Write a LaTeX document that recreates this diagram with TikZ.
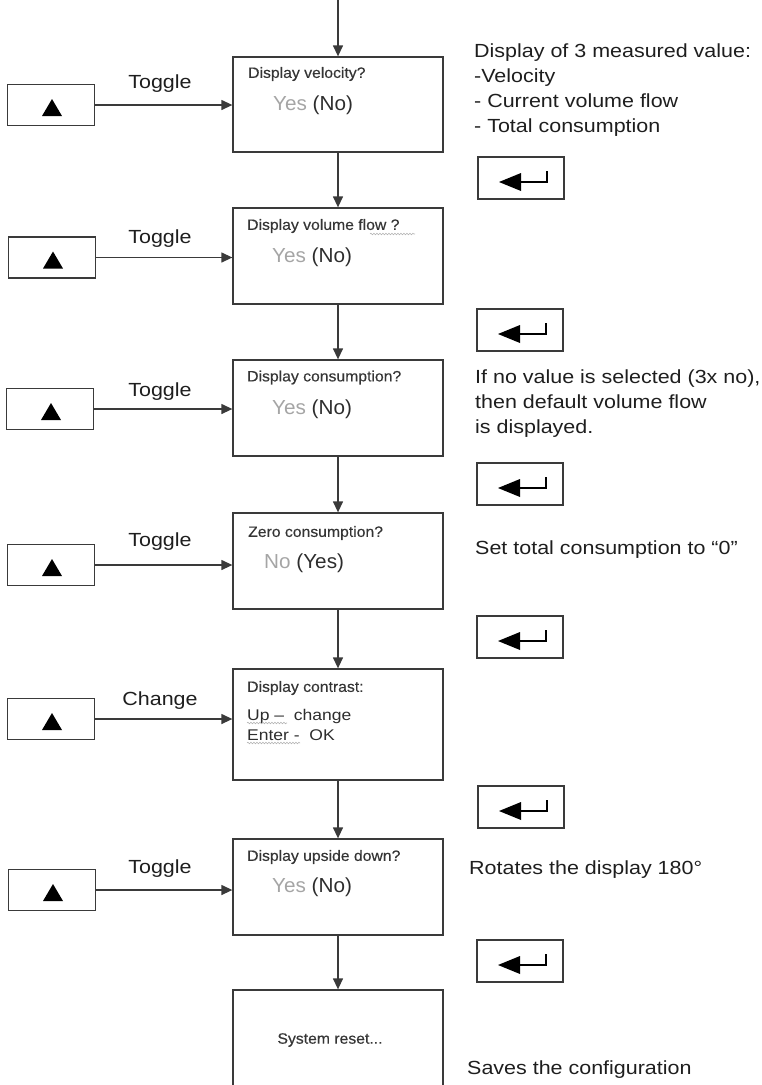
\documentclass[tikz,border=0pt]{standalone}
\usepackage{fontspec}
\setmainfont{Liberation Sans}[FakeStretch=1.13]
\newfontfamily\ttlfamily{Liberation Sans}[FakeStretch=1.05,FakeBold=0.35]
\newfontfamily\ynfamily{Liberation Sans}[FakeStretch=1.02]
\usetikzlibrary{arrows.meta,decorations.pathmorphing}
\definecolor{ln}{HTML}{3A3A3A}
\definecolor{tx}{HTML}{1E1E1E}
\definecolor{ttlc}{HTML}{353535}
\definecolor{lite}{HTML}{A5A5A5}
\definecolor{darkno}{HTML}{2D2D2D}
\definecolor{squig}{HTML}{B4B4B4}
\newcommand\enterglyph[1]{%
  \begin{scope}[shift={(#1.center)}]
    \fill[black] (-22,4) -- (0,-5) -- (0,13) -- cycle;
    \draw[black, line width=2.2pt] (-1,4) -- (26,4) -- (26,-7);
  \end{scope}}
\newcommand\upglyph[1]{%
  \begin{scope}[shift={(#1.center)}]
    \fill[black] (-9,11) -- (11,11) -- (1,-6) -- cycle;
  \end{scope}}
\begin{document}
\begin{tikzpicture}[x=1pt,y=-1pt,
  mainbox/.style={draw=ln, line width=1.3pt, minimum width=210pt, inner sep=0pt},
  upbtn/.style={draw=ln, line width=1.3pt, minimum width=87pt, minimum height=41pt, inner sep=0pt},
  entbtn/.style={draw=ln, line width=1.3pt, minimum width=86pt, minimum height=42pt, inner sep=0pt},
  conn/.style={draw=ln, line width=1.3pt, -{Triangle[length=11pt,width=10pt]}},
  ttl/.style={anchor=west, inner sep=0pt, text=ttlc, font=\ttlfamily\fontsize{15}{17}\selectfont},
  yn/.style={anchor=west, inner sep=0pt, text=darkno, font=\ynfamily\fontsize{20.3}{22}\selectfont},
  body/.style={anchor=west, inner sep=0pt, text=darkno, font=\fontsize{15.5}{18}\selectfont},
  lbl/.style={anchor=base, inner sep=0pt, text=tx, font=\fontsize{19}{25}\selectfont},
  note/.style={anchor=base west, inner sep=0pt, text=tx, font=\fontsize{19}{25}\selectfont},
  squiggle/.style={draw=squig, line width=0.6pt, decorate, decoration={snake, amplitude=0.8pt, segment length=3pt}}
]
\useasboundingbox (0,0) rectangle (762,1085);
\clip (0,0) rectangle (762,1085);

% main boxes
\node[mainbox, minimum height=95pt]  (b1) at (338,104.5) {};
\node[mainbox, minimum height=96pt]  (b2) at (338,256) {};
\node[mainbox, minimum height=96pt]  (b3) at (338,408) {};
\node[mainbox, minimum height=96pt]  (b4) at (338,561) {};
\node[mainbox, minimum height=111pt] (b5) at (338,724.5) {};
\node[mainbox, minimum height=96pt]  (b6) at (338,887) {};
\node[mainbox, minimum height=110pt] (b7) at (338,1045) {};

% texts in boxes
\node[ttl] (t1) at (248,74) {Display velocity?};
\node[yn]  (y1) at (273,105) {\textcolor{lite}{Yes} (No)};
\node[ttl] (t2) at (247,226) {Display volume flow ?};
\node[yn]  (y2) at (272,257) {\textcolor{lite}{Yes} (No)};
\node[ttl] (t3) at (247,377.5) {Display consumption?};
\node[yn]  (y3) at (272,409) {\textcolor{lite}{Yes} (No)};
\node[ttl] (t4) at (248,533) {Zero consumption?};
\node[yn]  (y4) at (264,563) {\textcolor{lite}{No} (Yes)};
\node[ttl] (t5) at (247,688) {Display contrast:};
\node[body] (u5) at (247,716) {Up –\ \ change};
\node[body] (e5t) at (247,735) {Enter -\ \ OK};
\node[ttl] (t6) at (247,857) {Display upside down?};
\node[yn]  (y6) at (272,887) {\textcolor{lite}{Yes} (No)};
\node[ttl, anchor=center] (t7) at (330,1040) {System reset...};

% spell-check squiggles
\draw[squiggle] (370,234) -- (415,234);
\draw[squiggle] (247,723) -- (287,723);
\draw[squiggle] (247,743) -- (300,743);

% up buttons
\node[upbtn] (u1) at (51,105) {};
\node[upbtn] (u2) at (52,257.5) {};
\node[upbtn] (u3) at (50,409) {};
\node[upbtn] (u4) at (51,565) {};
\node[upbtn] (u5b) at (51,719) {};
\node[upbtn] (u6) at (52,890) {};
\upglyph{u1}\upglyph{u2}\upglyph{u3}\upglyph{u4}\upglyph{u5b}\upglyph{u6}

% enter buttons
\node[entbtn] (e1) at (521,178) {};
\node[entbtn] (e2) at (520,330) {};
\node[entbtn] (e3) at (520,484) {};
\node[entbtn] (e4) at (520,637) {};
\node[entbtn] (e5) at (521,807) {};
\node[entbtn] (e6) at (520,961) {};
\enterglyph{e1}\enterglyph{e2}\enterglyph{e3}\enterglyph{e4}\enterglyph{e5}\enterglyph{e6}

% labels on horizontal arrows
\node[lbl] (l1) at (160,88) {Toggle};
\node[lbl] (l2) at (160,243) {Toggle};
\node[lbl] (l3) at (160,396) {Toggle};
\node[lbl] (l4) at (160,546) {Toggle};
\node[lbl] (l5) at (160,705) {Change};
\node[lbl] (l6) at (160,873) {Toggle};

% connectors
\coordinate (top) at (338,-5);
\draw[conn] (top) -- (b1.north);
\draw[conn] (b1.south) -- (b2.north);
\draw[conn] (b2.south) -- (b3.north);
\draw[conn] (b3.south) -- (b4.north);
\draw[conn] (b4.south) -- (b5.north);
\draw[conn] (b5.south) -- (b6.north);
\draw[conn] (b6.south) -- (b7.north);
\draw[conn] (u1.east) -- (u1.east -| b1.west);
\draw[conn] (u2.east) -- (u2.east -| b2.west);
\draw[conn] (u3.east) -- (u3.east -| b3.west);
\draw[conn] (u4.east) -- (u4.east -| b4.west);
\draw[conn] (u5b.east) -- (u5b.east -| b5.west);
\draw[conn] (u6.east) -- (u6.east -| b6.west);

% right notes
\node[note] (n1a) at (474,57)  {Display of 3 measured value:};
\node[note] (n1b) at (474,82)  {-Velocity};
\node[note] (n1c) at (474,107) {- Current volume flow};
\node[note] (n1d) at (474,132) {- Total consumption};
\node[note] (n2a) at (475,383) {If no value is selected (3x no),};
\node[note] (n2b) at (475,408) {then default volume flow};
\node[note] (n2c) at (475,433) {is displayed.};
\node[note] (n3)  at (475,554) {Set total consumption to “0”};
\node[note] (n4)  at (469,874) {Rotates the display 180°};
\node[note] (n5)  at (467,1074) {Saves the configuration};
\end{tikzpicture}
\end{document}
